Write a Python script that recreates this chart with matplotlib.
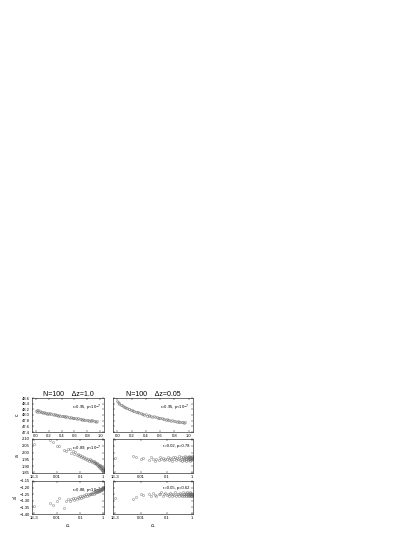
import matplotlib
matplotlib.use("Agg")
import matplotlib.pyplot as plt

plt.rcParams['font.family'] = ['Liberation Sans', 'DejaVu Sans']

# top row: linear x
x_lin = [0.00, 0.01, 0.02, 0.03, 0.05, 0.06, 0.08, 0.09, 0.11, 0.12, 0.14, 0.16, 0.17, 0.19,
         0.21, 0.22, 0.24, 0.26, 0.28, 0.29, 0.31, 0.33, 0.35, 0.36, 0.38, 0.40, 0.42, 0.44,
         0.45, 0.47, 0.49, 0.51, 0.53, 0.55, 0.57, 0.58, 0.60, 0.62, 0.64, 0.66, 0.68, 0.70,
         0.71, 0.73, 0.75, 0.77, 0.79, 0.81, 0.83, 0.85, 0.86, 0.88, 0.90, 0.92, 0.94, 0.95]
c_dz1 = [48.15, 48.18, 48.12, 48.16, 48.10, 48.14, 48.09, 48.12, 48.08, 48.10, 48.06, 48.08,
         48.05, 48.07, 48.04, 48.06, 48.02, 48.04, 48.01, 48.03, 47.99, 48.01, 47.98, 47.99,
         47.96, 47.98, 47.95, 47.97, 47.93, 47.95, 47.92, 47.94, 47.90, 47.92, 47.89, 47.91,
         47.88, 47.90, 47.86, 47.88, 47.85, 47.87, 47.84, 47.86, 47.82, 47.84, 47.81, 47.83,
         47.80, 47.82, 47.79, 47.81, 47.78, 47.80, 47.77, 47.79]
c_dz005 = [48.50, 48.45, 48.42, 48.40, 48.36, 48.35, 48.31, 48.30, 48.28, 48.26, 48.24, 48.22,
           48.21, 48.18, 48.17, 48.15, 48.13, 48.12, 48.09, 48.10, 48.06, 48.07, 48.03, 48.04,
           48.01, 48.02, 47.98, 47.99, 47.96, 47.97, 47.94, 47.95, 47.92, 47.93, 47.90, 47.91,
           47.88, 47.89, 47.86, 47.87, 47.84, 47.85, 47.83, 47.83, 47.80, 47.81, 47.79, 47.79,
           47.77, 47.78, 47.76, 47.76, 47.74, 47.75, 47.73, 47.74]

# middle and bottom rows: log x
x_log = [0.001, 0.005, 0.0065, 0.01, 0.012, 0.02, 0.025, 0.03, 0.035, 0.04, 0.05, 0.055,
         0.06, 0.07, 0.08, 0.09,
         0.10, 0.11, 0.12, 0.13, 0.15, 0.16, 0.18, 0.20, 0.22, 0.24, 0.26, 0.28, 0.30, 0.33,
         0.36, 0.38, 0.40, 0.43, 0.46, 0.48, 0.50, 0.53, 0.56, 0.58, 0.60, 0.63, 0.66, 0.68,
         0.70, 0.73, 0.75, 0.78, 0.80, 0.82, 0.85, 0.87, 0.89, 0.91, 0.93, 0.95, 0.97, 0.98, 0.99]
a_dz1 = [2.065, 2.09, 2.075, 2.05, 2.045, 2.02, 2.015, 2.025, 2.03, 2.00, 2.01, 1.99,
         2.005, 1.985, 1.99, 1.975,
         1.98, 1.965, 1.975, 1.96, 1.97, 1.955, 1.96, 1.945, 1.955, 1.94, 1.95, 1.935, 1.945,
         1.93, 1.94, 1.925, 1.935, 1.92, 1.93, 1.915, 1.925, 1.91, 1.92, 1.905, 1.915, 1.90,
         1.91, 1.895, 1.91, 1.89, 1.905, 1.885, 1.90, 1.88, 1.895, 1.875, 1.89, 1.87, 1.885,
         1.865, 1.88, 1.87, 1.875]
a_dz005 = [1.957, 1.975, 1.965, 1.955, 1.960, 1.945, 1.970, 1.950, 1.940, 1.955, 1.945, 1.965,
           1.950, 1.960, 1.945, 1.955,
           1.950, 1.965, 1.945, 1.960, 1.955, 1.940, 1.965, 1.950, 1.970, 1.945, 1.960, 1.950,
           1.975, 1.945, 1.965, 1.955, 1.940, 1.970, 1.950, 1.960, 1.945, 1.975, 1.955, 1.965,
           1.940, 1.960, 1.950, 1.970, 1.945, 1.965, 1.955, 1.975, 1.950, 1.940, 1.965, 1.955,
           1.970, 1.945, 1.960, 1.950, 1.975, 1.955, 1.965]
ap_dz1 = [-1.342, -1.318, -1.330, -1.300, -1.275, -1.355, -1.300, -1.290, -1.305, -1.285,
          -1.280, -1.295, -1.275, -1.285, -1.270, -1.280,
          -1.265, -1.275, -1.260, -1.270, -1.255, -1.265, -1.250, -1.260, -1.248, -1.255,
          -1.245, -1.250, -1.240, -1.248, -1.236, -1.245, -1.232, -1.240, -1.228, -1.236,
          -1.225, -1.232, -1.222, -1.230, -1.218, -1.228, -1.215, -1.225, -1.212, -1.222,
          -1.210, -1.220, -1.207, -1.218, -1.205, -1.215, -1.200, -1.212, -1.198, -1.210,
          -1.195, -1.205, -1.200]
ap_dz005 = [-1.275, -1.290, -1.270, -1.250, -1.255, -1.245, -1.260, -1.240, -1.255, -1.265,
            -1.245, -1.250, -1.235, -1.260, -1.250, -1.240,
            -1.255, -1.245, -1.260, -1.240, -1.250, -1.265, -1.245, -1.255, -1.235, -1.260,
            -1.245, -1.250, -1.265, -1.240, -1.255, -1.245, -1.260, -1.235, -1.250, -1.265,
            -1.245, -1.255, -1.240, -1.260, -1.250, -1.235, -1.255, -1.245, -1.265, -1.240,
            -1.250, -1.260, -1.245, -1.255, -1.235, -1.265, -1.250, -1.240, -1.260, -1.245,
            -1.255, -1.250, -1.262]

titles = ["N=100    \u0394z=1.0", "N=100    \u0394z=0.05"]
stats = [["r=0.95, p<10$^{-7}$", "r=0.95, p<10$^{-7}$"],
         ["r=0.89, p<10$^{-7}$", "r=0.02, p=0.78"],
         ["r=0.88, p<10$^{-7}$", "r=0.05, p=0.62"]]
ylabels = ["c", "a", "a'"]

fig = plt.figure(figsize=(4.15, 5.37), dpi=100)
W, H = 415.0, 537.0
cols = [(32, 72), (113, 80)]
rows = [(398, 34), (439, 34), (481, 33)]

series = [[(x_lin, c_dz1), (x_lin, c_dz005)],
          [(x_log, a_dz1), (x_log, a_dz005)],
          [(x_log, ap_dz1), (x_log, ap_dz005)]]

for r, (top, h) in enumerate(rows):
    for c, (left, w) in enumerate(cols):
        ax = fig.add_axes([left / W, 1 - (top + h) / H, w / W, h / H])
        xs, ys = series[r][c]
        ax.plot(xs, ys, 's', ms=1.2, mfc='none', mec='#666666', mew=0.3)
        if r == 0:
            ax.set_xlim(-0.06, 1.06)
            ax.set_ylim(47.4, 48.6)
            ax.set_xticks([0.0, 0.2, 0.4, 0.6, 0.8, 1.0])
            ax.set_xticklabels(["0.0", "0.2", "0.4", "0.6", "0.8", "1.0"])
            ax.set_yticks([47.4, 47.6, 47.8, 48.0, 48.2, 48.4, 48.6])
            ax.set_title(titles[c], fontsize=5, pad=1.5)
        else:
            ax.set_xscale('log')
            ax.set_xlim(0.0008, 1.08)
            ax.set_xticks([0.001, 0.01, 0.1, 1])
            ax.set_xticklabels(["1E-3", "0.01", "0.1", "1"])
            ax.minorticks_off()
            if r == 1:
                ax.set_ylim(1.85, 2.10)
                ax.set_yticks([1.85, 1.90, 1.95, 2.00, 2.05, 2.10])
            else:
                ax.set_ylim(-1.40, -1.15)
                ax.set_yticks([-1.40, -1.35, -1.30, -1.25, -1.20, -1.15])
        ax.tick_params(direction='in', length=1.2, width=0.3, labelsize=3, pad=1.5,
                       top=True, right=True)
        if c == 1:
            ax.tick_params(labelleft=False)
        else:
            ax.set_ylabel(ylabels[r], fontsize=3.5, labelpad=1.5)
        if r == 2:
            ax.set_xlabel("$c_L$", fontsize=3.5, labelpad=1.5)
        for s in ax.spines.values():
            s.set_linewidth(0.4)
        ax.text(0.96, 0.86, stats[r][c], transform=ax.transAxes, ha='right', va='top',
                fontsize=3)

fig.savefig("out.png", dpi=100)
